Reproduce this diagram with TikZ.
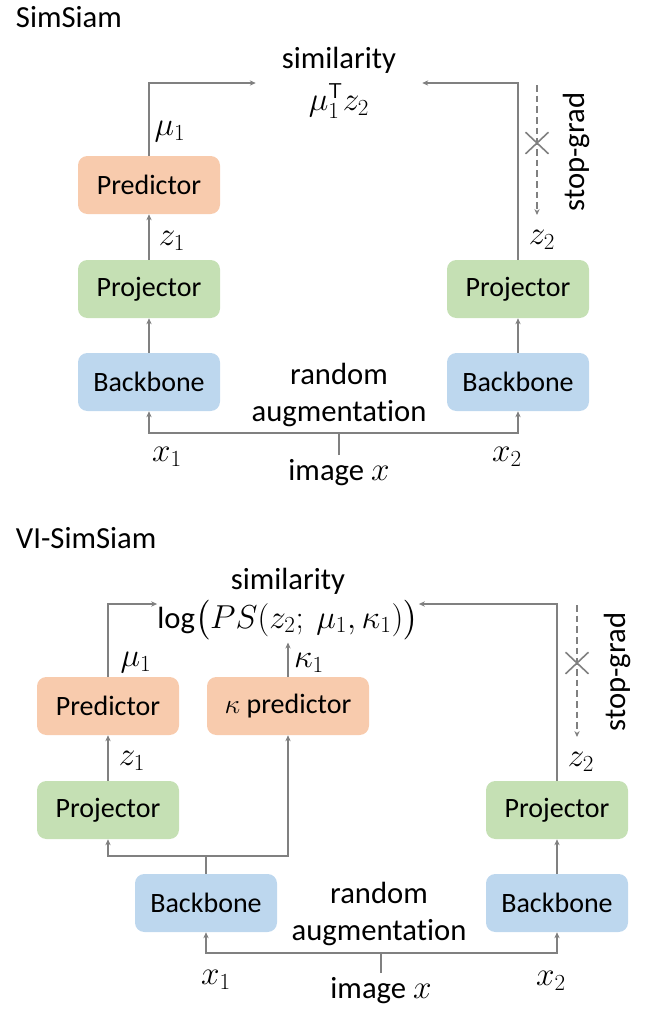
\documentclass[tikz,border=0pt]{standalone}
\usepackage{fontspec}
\setmainfont{Carlito}
\usepackage{amsmath}
\usetikzlibrary{arrows.meta, shapes.misc}
\definecolor{predfill}{HTML}{F8CBAD}
\definecolor{projfill}{HTML}{C5E0B4}
\definecolor{backfill}{HTML}{BDD7EE}
\definecolor{wire}{HTML}{808080}

\begin{document}
\begin{tikzpicture}[x=0.75pt, y=-0.75pt,
  box/.style={rectangle, rounded corners=7pt, minimum width=106.5pt, minimum height=43.5pt,
    align=center, font=\fontsize{21}{25}\selectfont},
  lbl/.style={inner sep=2pt, align=center, font=\fontsize{23}{27.75}\selectfont},
  arr/.style={-{Stealth[length=4.5pt, width=4pt]}, line width=1.2pt, color=wire},
  wireline/.style={line width=1.2pt, color=wire},
  cut/.style={cross out, draw=wire, line width=1.2pt, minimum width=16pt, minimum height=15pt, inner sep=0pt},
  nograd/.style={arr, line width=0.9pt, dash pattern=on 5pt off 3pt}]
  \useasboundingbox (0,0) rectangle (665,1015);

  % SimSiam
  \node[lbl, anchor=west] (title1) at (13,17) {SimSiam};
  \node[box, fill=backfill] (bb1) at (149,382) {Backbone};
  \node[box, fill=projfill] (proj1) at (149,289) {Projector};
  \node[box, fill=predfill] (pred1) at (149,185) {Predictor};
  \node[box, fill=backfill] (bb1r) at (518,382) {Backbone};
  \node[box, fill=projfill] (proj1r) at (518,289) {Projector};
  \node[lbl, minimum width=124.5pt, inner xsep=0pt] (sim1) at (339,83) {similarity\\[4pt]$\mu_1^{\mathsf{T}} z_2$};
  \node[lbl] (aug1) at (339,395) {random\\augmentat\kern0pt ion};
  \node[lbl, anchor=north, inner ysep=3pt] (img1) at (339,455) {image $x$};

  \node[lbl] (mu1a) at (170,132) {$\mu_1$};
  \node[lbl] (z1a) at (172,241) {$z_1$};
  \node[lbl] (z2a) at (542,240) {$z_2$};
  \node[lbl] (x1a) at (167,457) {$x_1$};
  \node[lbl] (x2a) at (507,457) {$x_2$};

  \draw[arr] (bb1) -- (proj1);
  \draw[arr] (proj1) -- (pred1);
  \draw[arr] (pred1) |- (sim1.west);
  \draw[arr] (bb1r) -- (proj1r);
  \draw[arr] (proj1r) |- (sim1.east);
  \coordinate (fork1) at (339,433);
  \draw[wireline] (img1) -- (fork1);
  \draw[arr] (fork1) -| (bb1);
  \draw[arr] (fork1) -| (bb1r);

  \coordinate (sgtop1) at (537,85);
  \coordinate (sgbot1) at (537,215);
  \draw[nograd] (sgtop1) -- (sgbot1);
  \node[cut] (cut1) at (537,143) {};
  \node[lbl, rotate=90] (sg1) at (576,152) {stop-grad};

  % VI-SimSiam
  \node[lbl, anchor=west] (title2) at (13,538) {VI-SimSiam};
  \node[box, fill=backfill] (bb2) at (206,903) {Backbone};
  \node[box, fill=projfill] (proj2) at (108,810) {Projector};
  \node[box, fill=predfill] (pred2) at (108,706) {Predictor};
  \node[box, fill=predfill, minimum width=121.5pt] (kpred2) at (288,706) {$\kappa$ predictor};
  \node[box, fill=backfill] (bb2r) at (557,903) {Backbone};
  \node[box, fill=projfill] (proj2r) at (557,810) {Projector};
  \node[lbl, minimum width=179pt, inner xsep=0pt] (sim2) at (288,604) {similarity\\[1pt]$\log\bigl(PS(z_2;\ \mu_1,\kappa_1)\bigr)$};
  \node[lbl] (aug2) at (379,914) {random\\augmentat\kern0pt ion};
  \node[lbl, anchor=north, inner ysep=3pt] (img2) at (381,973) {image $x$};

  \node[lbl] (mu1b) at (136,663) {$\mu_1$};
  \node[lbl] (kap1b) at (309,663) {$\kappa_1$};
  \node[lbl] (z1b) at (132,761) {$z_1$};
  \node[lbl] (z2b) at (581,762) {$z_2$};
  \node[lbl] (x1b) at (216,980) {$x_1$};
  \node[lbl] (x2b) at (551,981) {$x_2$};

  \coordinate (fork2) at (206,856);
  \draw[wireline] (bb2) -- (fork2);
  \draw[arr] (fork2) -| (proj2);
  \draw[arr] (fork2) -| (kpred2);
  \draw[arr] (proj2) -- (pred2);
  \draw[arr] (pred2) |- (sim2.west);
  \draw[arr] (kpred2) -- (sim2);
  \draw[arr] (bb2r) -- (proj2r);
  \draw[arr] (proj2r) |- (sim2.east);
  \coordinate (fork3) at (381,953);
  \draw[wireline] (img2) -- (fork3);
  \draw[arr] (fork3) -| (bb2);
  \draw[arr] (fork3) -| (bb2r);

  \coordinate (sgtop2) at (577,605);
  \coordinate (sgbot2) at (577,737);
  \draw[nograd] (sgtop2) -- (sgbot2);
  \node[cut] (cut2) at (577,663) {};
  \node[lbl, rotate=90] (sg2) at (617,672) {stop-grad};
\end{tikzpicture}
\end{document}
